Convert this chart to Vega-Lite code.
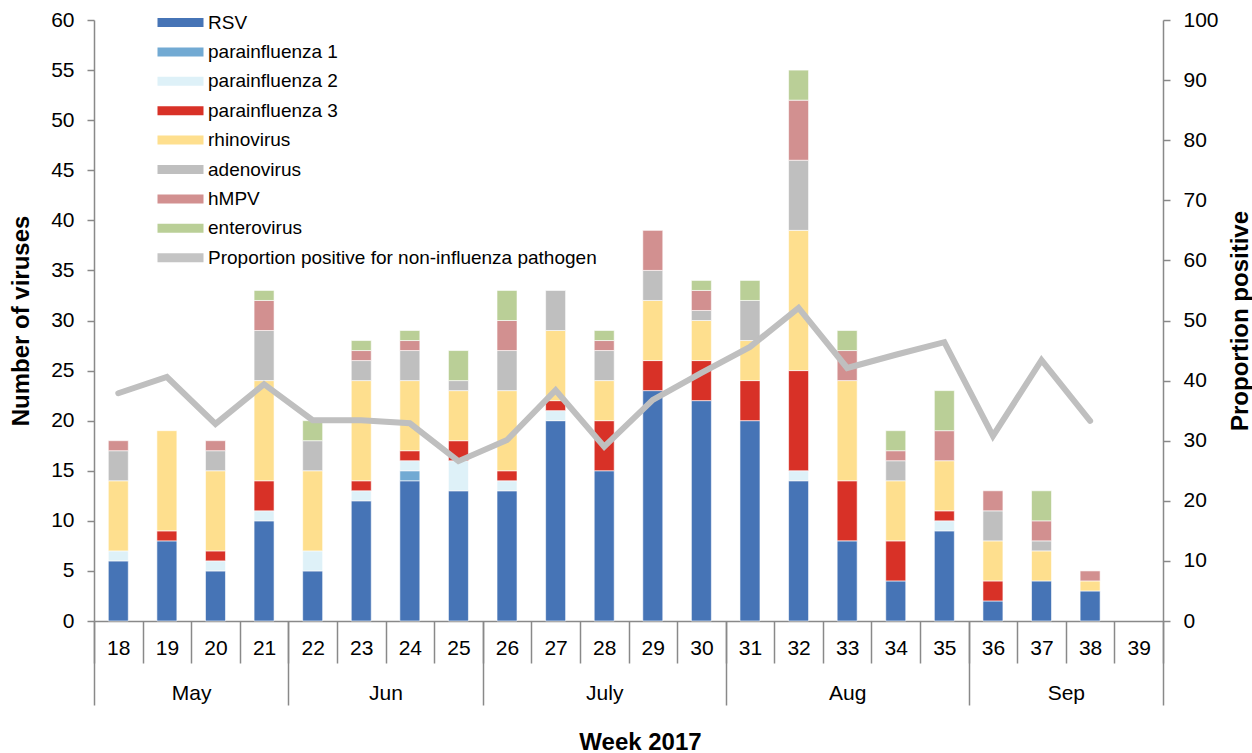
{
  "$schema": "https://vega.github.io/schema/vega-lite/v6.json",
  "width": 1069,
  "height": 601,
  "autosize": {"type": "none"},
  "padding": {"left": 94, "top": 20, "right": 89, "bottom": 132},
  "config": {
    "view": {"stroke": null},
    "font": "Liberation Sans",
    "axis": {
      "labelFont": "Liberation Sans",
      "titleFont": "Liberation Sans",
      "labelColor": "#000000",
      "titleColor": "#000000",
      "domainColor": "#898989",
      "tickColor": "#898989",
      "domainWidth": 1.5,
      "tickWidth": 1.5,
      "grid": false
    },
    "legend": {"labelFont": "Liberation Sans"}
  },
  "datasets": {
    "viruses": [
      {"virus": "RSV", "rank": 1},
      {"virus": "parainfluenza 1", "rank": 2},
      {"virus": "parainfluenza 2", "rank": 3},
      {"virus": "parainfluenza 3", "rank": 4},
      {"virus": "rhinovirus", "rank": 5},
      {"virus": "adenovirus", "rank": 6},
      {"virus": "hMPV", "rank": 7},
      {"virus": "enterovirus", "rank": 8}
    ],
    "counts": [
      {"week": 18, "virus": "RSV", "count": 6},
      {"week": 18, "virus": "parainfluenza 2", "count": 1},
      {"week": 18, "virus": "rhinovirus", "count": 7},
      {"week": 18, "virus": "adenovirus", "count": 3},
      {"week": 18, "virus": "hMPV", "count": 1},
      {"week": 19, "virus": "RSV", "count": 8},
      {"week": 19, "virus": "parainfluenza 3", "count": 1},
      {"week": 19, "virus": "rhinovirus", "count": 10},
      {"week": 20, "virus": "RSV", "count": 5},
      {"week": 20, "virus": "parainfluenza 2", "count": 1},
      {"week": 20, "virus": "parainfluenza 3", "count": 1},
      {"week": 20, "virus": "rhinovirus", "count": 8},
      {"week": 20, "virus": "adenovirus", "count": 2},
      {"week": 20, "virus": "hMPV", "count": 1},
      {"week": 21, "virus": "RSV", "count": 10},
      {"week": 21, "virus": "parainfluenza 2", "count": 1},
      {"week": 21, "virus": "parainfluenza 3", "count": 3},
      {"week": 21, "virus": "rhinovirus", "count": 10},
      {"week": 21, "virus": "adenovirus", "count": 5},
      {"week": 21, "virus": "hMPV", "count": 3},
      {"week": 21, "virus": "enterovirus", "count": 1},
      {"week": 22, "virus": "RSV", "count": 5},
      {"week": 22, "virus": "parainfluenza 2", "count": 2},
      {"week": 22, "virus": "rhinovirus", "count": 8},
      {"week": 22, "virus": "adenovirus", "count": 3},
      {"week": 22, "virus": "enterovirus", "count": 2},
      {"week": 23, "virus": "RSV", "count": 12},
      {"week": 23, "virus": "parainfluenza 2", "count": 1},
      {"week": 23, "virus": "parainfluenza 3", "count": 1},
      {"week": 23, "virus": "rhinovirus", "count": 10},
      {"week": 23, "virus": "adenovirus", "count": 2},
      {"week": 23, "virus": "hMPV", "count": 1},
      {"week": 23, "virus": "enterovirus", "count": 1},
      {"week": 24, "virus": "RSV", "count": 14},
      {"week": 24, "virus": "parainfluenza 1", "count": 1},
      {"week": 24, "virus": "parainfluenza 2", "count": 1},
      {"week": 24, "virus": "parainfluenza 3", "count": 1},
      {"week": 24, "virus": "rhinovirus", "count": 7},
      {"week": 24, "virus": "adenovirus", "count": 3},
      {"week": 24, "virus": "hMPV", "count": 1},
      {"week": 24, "virus": "enterovirus", "count": 1},
      {"week": 25, "virus": "RSV", "count": 13},
      {"week": 25, "virus": "parainfluenza 2", "count": 3},
      {"week": 25, "virus": "parainfluenza 3", "count": 2},
      {"week": 25, "virus": "rhinovirus", "count": 5},
      {"week": 25, "virus": "adenovirus", "count": 1},
      {"week": 25, "virus": "enterovirus", "count": 3},
      {"week": 26, "virus": "RSV", "count": 13},
      {"week": 26, "virus": "parainfluenza 2", "count": 1},
      {"week": 26, "virus": "parainfluenza 3", "count": 1},
      {"week": 26, "virus": "rhinovirus", "count": 8},
      {"week": 26, "virus": "adenovirus", "count": 4},
      {"week": 26, "virus": "hMPV", "count": 3},
      {"week": 26, "virus": "enterovirus", "count": 3},
      {"week": 27, "virus": "RSV", "count": 20},
      {"week": 27, "virus": "parainfluenza 2", "count": 1},
      {"week": 27, "virus": "parainfluenza 3", "count": 1},
      {"week": 27, "virus": "rhinovirus", "count": 7},
      {"week": 27, "virus": "adenovirus", "count": 4},
      {"week": 28, "virus": "RSV", "count": 15},
      {"week": 28, "virus": "parainfluenza 3", "count": 5},
      {"week": 28, "virus": "rhinovirus", "count": 4},
      {"week": 28, "virus": "adenovirus", "count": 3},
      {"week": 28, "virus": "hMPV", "count": 1},
      {"week": 28, "virus": "enterovirus", "count": 1},
      {"week": 29, "virus": "RSV", "count": 23},
      {"week": 29, "virus": "parainfluenza 3", "count": 3},
      {"week": 29, "virus": "rhinovirus", "count": 6},
      {"week": 29, "virus": "adenovirus", "count": 3},
      {"week": 29, "virus": "hMPV", "count": 4},
      {"week": 30, "virus": "RSV", "count": 22},
      {"week": 30, "virus": "parainfluenza 3", "count": 4},
      {"week": 30, "virus": "rhinovirus", "count": 4},
      {"week": 30, "virus": "adenovirus", "count": 1},
      {"week": 30, "virus": "hMPV", "count": 2},
      {"week": 30, "virus": "enterovirus", "count": 1},
      {"week": 31, "virus": "RSV", "count": 20},
      {"week": 31, "virus": "parainfluenza 3", "count": 4},
      {"week": 31, "virus": "rhinovirus", "count": 4},
      {"week": 31, "virus": "adenovirus", "count": 4},
      {"week": 31, "virus": "enterovirus", "count": 2},
      {"week": 32, "virus": "RSV", "count": 14},
      {"week": 32, "virus": "parainfluenza 2", "count": 1},
      {"week": 32, "virus": "parainfluenza 3", "count": 10},
      {"week": 32, "virus": "rhinovirus", "count": 14},
      {"week": 32, "virus": "adenovirus", "count": 7},
      {"week": 32, "virus": "hMPV", "count": 6},
      {"week": 32, "virus": "enterovirus", "count": 3},
      {"week": 33, "virus": "RSV", "count": 8},
      {"week": 33, "virus": "parainfluenza 3", "count": 6},
      {"week": 33, "virus": "rhinovirus", "count": 10},
      {"week": 33, "virus": "hMPV", "count": 3},
      {"week": 33, "virus": "enterovirus", "count": 2},
      {"week": 34, "virus": "RSV", "count": 4},
      {"week": 34, "virus": "parainfluenza 3", "count": 4},
      {"week": 34, "virus": "rhinovirus", "count": 6},
      {"week": 34, "virus": "adenovirus", "count": 2},
      {"week": 34, "virus": "hMPV", "count": 1},
      {"week": 34, "virus": "enterovirus", "count": 2},
      {"week": 35, "virus": "RSV", "count": 9},
      {"week": 35, "virus": "parainfluenza 2", "count": 1},
      {"week": 35, "virus": "parainfluenza 3", "count": 1},
      {"week": 35, "virus": "rhinovirus", "count": 5},
      {"week": 35, "virus": "hMPV", "count": 3},
      {"week": 35, "virus": "enterovirus", "count": 4},
      {"week": 36, "virus": "RSV", "count": 2},
      {"week": 36, "virus": "parainfluenza 3", "count": 2},
      {"week": 36, "virus": "rhinovirus", "count": 4},
      {"week": 36, "virus": "adenovirus", "count": 3},
      {"week": 36, "virus": "hMPV", "count": 2},
      {"week": 37, "virus": "RSV", "count": 4},
      {"week": 37, "virus": "rhinovirus", "count": 3},
      {"week": 37, "virus": "adenovirus", "count": 1},
      {"week": 37, "virus": "hMPV", "count": 2},
      {"week": 37, "virus": "enterovirus", "count": 3},
      {"week": 38, "virus": "RSV", "count": 3},
      {"week": 38, "virus": "rhinovirus", "count": 1},
      {"week": 38, "virus": "hMPV", "count": 1}
    ],
    "prop": [
      {"week": 18, "proportion": 37.9},
      {"week": 19, "proportion": 40.6},
      {"week": 20, "proportion": 32.8},
      {"week": 21, "proportion": 39.4},
      {"week": 22, "proportion": 33.4},
      {"week": 23, "proportion": 33.4},
      {"week": 24, "proportion": 32.9},
      {"week": 25, "proportion": 26.6},
      {"week": 26, "proportion": 30.1},
      {"week": 27, "proportion": 38.4},
      {"week": 28, "proportion": 29.0},
      {"week": 29, "proportion": 36.8},
      {"week": 30, "proportion": 41.3},
      {"week": 31, "proportion": 45.6},
      {"week": 32, "proportion": 52.1},
      {"week": 33, "proportion": 42.1},
      {"week": 34, "proportion": 44.3},
      {"week": 35, "proportion": 46.4},
      {"week": 36, "proportion": 30.8},
      {"week": 37, "proportion": 43.4},
      {"week": 38, "proportion": 33.3}
    ],
    "bounds": [
      {"edge": 17.5}, {"edge": 21.5}, {"edge": 25.5}, {"edge": 30.5}, {"edge": 35.5}, {"edge": 39.5}
    ],
    "months": [
      {"month": "May", "mid": 19.5},
      {"month": "Jun", "mid": 23.5},
      {"month": "July", "mid": 28},
      {"month": "Aug", "mid": 33},
      {"month": "Sep", "mid": 37.5}
    ]
  },
  "layer": [
    {
      "data": {"name": "counts"},
      "transform": [
        {"lookup": "virus", "from": {"data": {"name": "viruses"}, "key": "virus", "fields": ["rank"]}}
      ],
      "mark": {"type": "bar", "width": 20, "stroke": "#ffffff", "strokeWidth": 0.6},
      "encoding": {
        "x": {
          "field": "week", "type": "ordinal",
          "scale": {"domain": [18,19,20,21,22,23,24,25,26,27,28,29,30,31,32,33,34,35,36,37,38,39], "paddingInner": 0, "paddingOuter": 0},
          "axis": {
            "title": null, "labelAngle": 0, "labelFontSize": 21, "tickBand": "extent",
            "tickSize": 42, "labelPadding": -26, "domain": true
          }
        },
        "y": {
          "field": "count", "type": "quantitative", "stack": "zero",
          "scale": {"domain": [0, 60], "nice": false},
          "axis": {
            "values": [0,5,10,15,20,25,30,35,40,45,50,55,60],
            "title": "Number of viruses", "titleFontSize": 24, "titleFontWeight": "bold",
            "titlePadding": 17, "labelFontSize": 21, "tickSize": 7, "labelPadding": 13
          }
        },
        "order": {"field": "rank", "type": "quantitative", "sort": "ascending"},
        "color": {
          "field": "virus", "type": "nominal",
          "sort": ["RSV", "parainfluenza 1", "parainfluenza 2", "parainfluenza 3", "rhinovirus", "adenovirus", "hMPV", "enterovirus", "Proportion positive for non-influenza pathogen"],
          "scale": {
            "domain": ["RSV", "parainfluenza 1", "parainfluenza 2", "parainfluenza 3", "rhinovirus", "adenovirus", "hMPV", "enterovirus", "Proportion positive for non-influenza pathogen"],
            "range": ["#4674B6", "#72AAD3", "#DEF1F8", "#D83127", "#FEDF8E", "#BFBFBF", "#D29090", "#BACF97", "#C4C4C4"]
          },
          "legend": {
            "title": null, "orient": "none", "legendX": 77, "legendY": -7,
            "symbolType": "M-4.6,-0.9L4.6,-0.9L4.6,0.9L-4.6,0.9Z", "symbolSize": 100,
            "symbolStrokeWidth": 0, "labelFontSize": 19, "labelOffset": 18,
            "rowPadding": 9.4, "padding": 0, "labelLimit": 500
          }
        }
      }
    },
    {
      "data": {"name": "prop"},
      "mark": {"type": "line", "stroke": "#BFBFBF", "strokeWidth": 6, "strokeCap": "round", "strokeJoin": "miter"},
      "encoding": {
        "x": {
          "field": "week", "type": "ordinal",
          "scale": {"domain": [18,19,20,21,22,23,24,25,26,27,28,29,30,31,32,33,34,35,36,37,38,39], "paddingInner": 0, "paddingOuter": 0},
          "axis": null
        },
        "y": {
          "field": "proportion", "type": "quantitative",
          "scale": {"domain": [0, 100], "nice": false},
          "axis": {
            "orient": "right", "values": [0,10,20,30,40,50,60,70,80,90,100],
            "title": "Proportion positive", "titleFontSize": 24, "titleFontWeight": "bold",
            "titleAngle": -90, "titlePadding": 34, "labelFontSize": 21, "tickSize": 7, "labelPadding": 13
          }
        }
      }
    },
    {
      "data": {"name": "bounds"},
      "mark": {"type": "point", "opacity": 0},
      "encoding": {
        "x": {
          "field": "edge", "type": "quantitative",
          "scale": {"domain": [17.5, 39.5], "nice": false, "zero": false},
          "axis": {
            "orient": "bottom", "values": [17.5, 21.5, 25.5, 30.5, 35.5, 39.5],
            "labels": false, "domain": false, "tickSize": 84, "title": null
          }
        }
      }
    },
    {
      "data": {"name": "months"},
      "mark": {"type": "point", "opacity": 0},
      "encoding": {
        "x": {
          "field": "mid", "type": "quantitative",
          "scale": {"domain": [17.5, 39.5], "nice": false, "zero": false},
          "axis": {
            "orient": "bottom", "values": [19.5, 23.5, 28, 33, 37.5],
            "labelExpr": "datum.value == 19.5 ? 'May' : datum.value == 23.5 ? 'Jun' : datum.value == 28 ? 'July' : datum.value == 33 ? 'Aug' : 'Sep'",
            "ticks": false, "tickSize": 0, "domain": false, "labelFontSize": 21, "labelPadding": 61,
            "title": "Week 2017", "titleFontSize": 24, "titleFontWeight": "bold",
            "titleX": 546, "titleY": 128, "titleBaseline": "alphabetic", "titleAlign": "center"
          }
        }
      }
    }
  ],
  "resolve": {"scale": {"x": "independent", "y": "independent"}, "axis": {"x": "independent", "y": "independent"}}
}
